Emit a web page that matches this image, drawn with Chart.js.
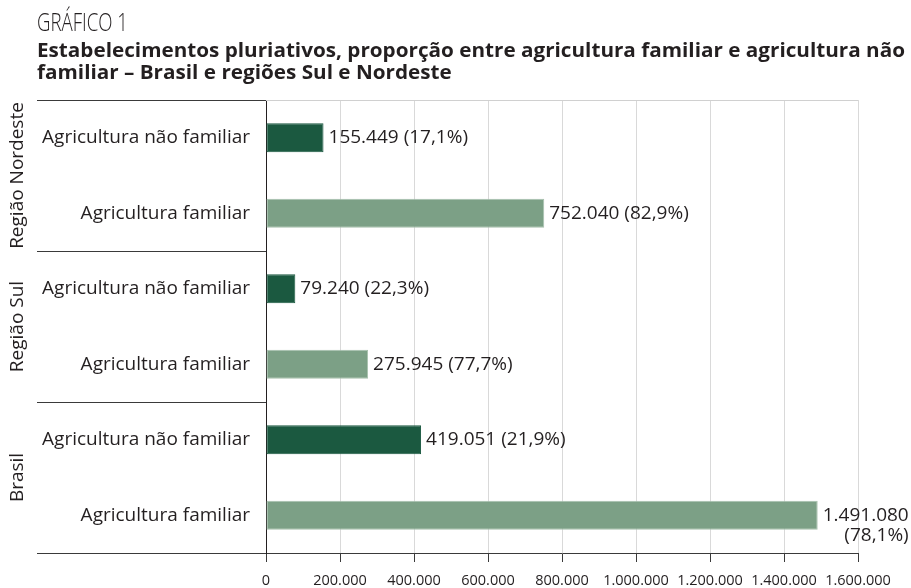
<!DOCTYPE html>
<html lang="pt-BR">
<head>
<meta charset="utf-8">
<script src="https://cdn.jsdelivr.net/npm/chart.js@4.4.1/dist/chart.umd.min.js"></script>
<style>
    html, body { margin: 0; padding: 0; background: #fff; }
    body { width: 911px; height: 588px; position: relative; overflow: hidden; font-family: 'Open Sans', sans-serif; color: #231f20; }
    #wrap { position: absolute; left: 0; top: 0; width: 911px; height: 588px; }
    .head { position: absolute; left: 37px; white-space: nowrap; transform-origin: 0 0; line-height: 1; }
    #kicker { top: 8px; font-size: 26px; font-weight: 300; }
    #title1 { top: 40px; font-size: 20px; font-weight: 700; }
    #title2 { top: 62px; font-size: 20px; font-weight: 700; }
</style>
</head>
<body>
<div id="wrap"><canvas id="chart" width="911" height="588"></canvas></div>
<div class="head" id="kicker">GRÁFICO 1</div>
<div class="head" id="title1">Estabelecimentos pluriativos, proporção entre agricultura familiar e agricultura não</div>
<div class="head" id="title2">familiar – Brasil e regiões Sul e Nordeste</div>
<script>
'use strict';

// --- DADOS ---
const barLabels = [
    'Agricultura não familiar', 'Agricultura familiar',
    'Agricultura não familiar', 'Agricultura familiar',
    'Agricultura não familiar', 'Agricultura familiar'
];
const groupNames = ['Região Nordeste', 'Região Sul', 'Brasil'];
const establishments = [155449, 752040, 79240, 275945, 419051, 1491080];
const shares = [17.1, 82.9, 22.3, 77.7, 21.9, 78.1];
const xTicks = [0, 200000, 400000, 600000, 800000, 1000000, 1200000, 1400000, 1600000];

const DARK = '#1b5940';
const LIGHT = '#7ca086';
const TEXT = '#231f20';

// título comprimido (fonte condensada no original)
function squeeze(id, target) {
    const el = document.getElementById(id);
    const w = el.getBoundingClientRect().width;
    const s = target / w;
    el.style.transform = `scaleX(${s})`;
    return s;
}
squeeze('kicker', 91);
const s1 = squeeze('title1', 868);
document.getElementById('title2').style.transform = `scaleX(${s1})`;

function fmt(n) {
    return String(n).replace(/\B(?=(\d{3})+(?!\d))/g, '.');
}
function pct(p) {
    return `(${p.toFixed(1).replace('.', ',')}%)`;
}

Chart.defaults.font.family = "'Open Sans', sans-serif";
Chart.defaults.color = TEXT;

// rótulos de valor ao lado das barras
const valueLabels = {
    id: 'valueLabels',
    afterDatasetsDraw(chart) {
        const ctx = chart.ctx;
        const meta = chart.getDatasetMeta(0);
        ctx.save();
        ctx.font = "19px 'Open Sans', sans-serif";
        ctx.fillStyle = TEXT;
        ctx.textBaseline = 'middle';
        meta.data.forEach((bar, i) => {
            const a = fmt(establishments[i]);
            const b = pct(shares[i]);
            const full = `${a} ${b}`;
            const x = bar.x + 5;
            if (x + ctx.measureText(full).width > chart.width - 4) {
                const right = x + ctx.measureText(a).width;
                ctx.textAlign = 'right';
                ctx.fillText(a, right, bar.y);
                ctx.fillText(b, right, bar.y + 20);
            } else {
                ctx.textAlign = 'left';
                ctx.fillText(full, x, bar.y);
            }
        });
        ctx.restore();
    }
};

// separadores e nomes dos grupos à esquerda
const groups = {
    id: 'groups',
    afterDraw(chart) {
        const ctx = chart.ctx;
        const area = chart.chartArea;
        const y = chart.scales.y;
        const bounds = [area.top];
        for (let g = 1; g < groupNames.length; g++) {
            bounds.push((y.getPixelForValue(g * 2 - 1) + y.getPixelForValue(g * 2)) / 2);
        }
        bounds.push(area.bottom);

        ctx.save();
        ctx.lineWidth = 1;
        // borda superior cinza
        ctx.strokeStyle = '#d0d0d0';
        ctx.beginPath();
        ctx.moveTo(area.left, Math.round(area.top) + 0.5);
        ctx.lineTo(area.right, Math.round(area.top) + 0.5);
        ctx.stroke();

        ctx.strokeStyle = '#3a3a3a';
        bounds.forEach(b => {
            ctx.beginPath();
            ctx.moveTo(37, Math.round(b) + 0.5);
            ctx.lineTo(area.left, Math.round(b) + 0.5);
            ctx.stroke();
        });

        ctx.fillStyle = TEXT;
        ctx.font = "19px 'Open Sans', sans-serif";
        ctx.textAlign = 'center';
        ctx.textBaseline = 'middle';
        groupNames.forEach((name, g) => {
            const cy = (bounds[g] + bounds[g + 1]) / 2;
            ctx.save();
            ctx.translate(18, cy);
            ctx.rotate(-Math.PI / 2);
            ctx.fillText(name, 0, 0);
            ctx.restore();
        });
        ctx.restore();
    }
};

new Chart(document.getElementById('chart'), {
    type: 'bar',
    data: {
        labels: barLabels,
        datasets: [{
            data: establishments,
            backgroundColor: establishments.map((v, i) => i % 2 === 0 ? DARK : LIGHT),
            borderColor: establishments.map((v, i) => i % 2 === 0 ? DARK : '#a7c0ad'),
            borderWidth: 1,
            borderSkipped: false,
            barPercentage: 0.385,
            categoryPercentage: 1
        }]
    },
    options: {
        indexAxis: 'y',
        responsive: false,
        animation: false,
        layout: { padding: { top: 100, right: 53, left: 0, bottom: 0 } },
        plugins: { legend: { display: false }, tooltip: { enabled: false } },
        scales: {
            x: {
                min: 0,
                max: 1600000,
                afterBuildTicks: scale => { scale.ticks = xTicks.map(v => ({ value: v })); },
                afterFit: scale => { scale.height = 35; },
                grid: { color: '#d9d9d9', tickColor: '#3a3a3a', tickLength: 9, lineWidth: 1 },
                border: { display: true, color: '#3a3a3a' },
                ticks: {
                    padding: 10,
                    maxRotation: 0,
                    autoSkip: false,
                    font: { size: 14.5 },
                    callback: v => fmt(v)
                }
            },
            y: {
                afterFit: scale => { scale.width = 266; },
                grid: { display: false, drawTicks: false },
                border: { display: true, color: '#231f20' },
                ticks: { padding: 16, font: { size: 19 }, autoSkip: false }
            }
        }
    },
    plugins: [valueLabels, groups]
});
</script>
</body>
</html>
